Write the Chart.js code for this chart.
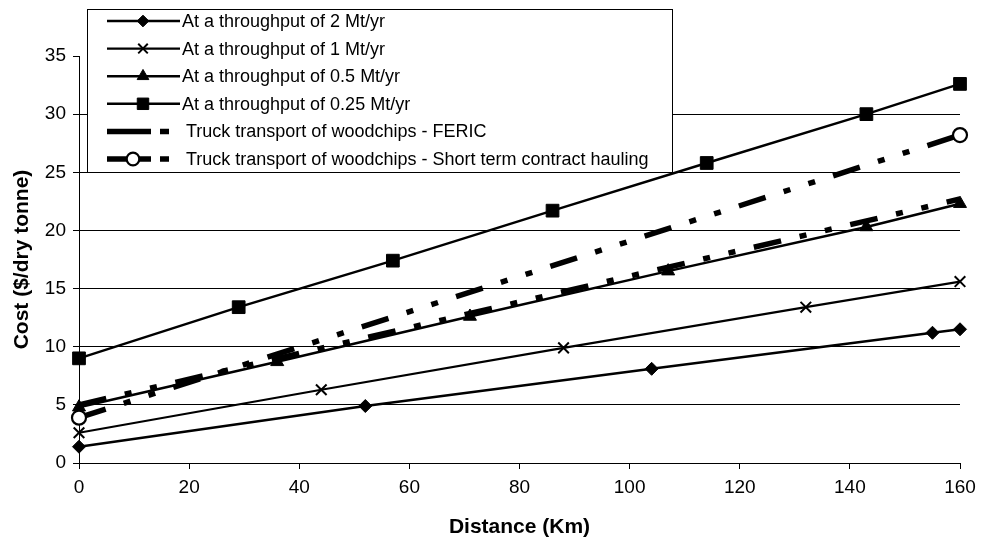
<!DOCTYPE html>
<html>
<head>
<meta charset="utf-8">
<script src="https://cdn.jsdelivr.net/npm/chart.js@4.4.1/dist/chart.umd.min.js"></script>
<style>
  html, body { margin: 0; padding: 0; background: #fff; }
  #wrap { width: 990px; height: 544px; position: relative; }
</style>
</head>
<body>
<div id="wrap"><canvas id="c" width="990" height="544"></canvas></div>
<script>
// ---- data ----
const seriesLabels = [
  'At a throughput of 2 Mt/yr',
  'At a throughput of 1 Mt/yr',
  'At a throughput of 0.5 Mt/yr',
  'At a throughput of 0.25 Mt/yr',
  'Truck transport of woodchips - FERIC',
  'Truck transport of woodchips - Short term contract hauling'
];
const dist2Mt = [0, 52, 104, 155, 160];
const cost2Mt = [1.4, 4.9, 8.1, 11.2, 11.5];
const dist1Mt = [0, 44, 88, 132, 160];
const cost1Mt = [2.6, 6.3, 9.9, 13.4, 15.6];
const dist05Mt = [0, 36, 71, 107, 143, 160];
const cost05Mt = [4.8, 8.7, 12.6, 16.5, 20.3, 22.3];
const dist025Mt = [0, 29, 57, 86, 114, 143, 160];
const cost025Mt = [9.0, 13.4, 17.4, 21.7, 25.8, 30.0, 32.6];
const distFeric = [0, 160];
const costFeric = [5.0, 22.7];
const distContract = [0, 160];
const costContract = [3.9, 28.2];
const xTicksMin = 0, xTicksMax = 160, xStep = 20;
const yTicksMin = 0, yTicksMax = 35, yStep = 5;

const FONT = "'Liberation Sans', Arial, Helvetica, sans-serif";
Chart.defaults.font.family = FONT;
Chart.defaults.color = '#000';

function pts(xs, ys) { return xs.map((x, i) => ({ x: x, y: ys[i] })); }
const dashPattern = [28, 19, 7, 19, 7, 19];

const datasets = [
  { label: seriesLabels[0], data: pts(dist2Mt, cost2Mt), borderWidth: 2.5, pointStyle: 'rectRot', pointRadius: 6.5 },
  { label: seriesLabels[1], data: pts(dist1Mt, cost1Mt), borderWidth: 2.2, pointStyle: 'crossRot', pointRadius: 7.5, pointBorderWidth: 2 },
  { label: seriesLabels[2], data: pts(dist05Mt, cost05Mt), borderWidth: 2.5, pointStyle: 'triangle', pointRadius: 7.5 },
  { label: seriesLabels[3], data: pts(dist025Mt, cost025Mt), borderWidth: 2.5, pointStyle: 'rect', pointRadius: 9 },
  { label: seriesLabels[4], data: pts(distFeric, costFeric), borderWidth: 5.5, borderDash: dashPattern, pointRadius: 0, pointStyle: false },
  { label: seriesLabels[5], data: pts(distContract, costContract), borderWidth: 5.5, borderDash: dashPattern, pointStyle: 'circle', pointRadius: 7, pointBackgroundColor: '#fff', pointBorderWidth: 2.2 }
].map((d, i) => Object.assign({
  borderColor: '#000',
  backgroundColor: '#000',
  pointBackgroundColor: '#000',
  pointBorderColor: '#000',
  pointBorderWidth: 1,
  pointHoverRadius: 0,
  fill: false,
  tension: 0,
  clip: false,
  order: 6 - i
}, d));

const boxLegend = {
  id: 'boxLegend',
  afterDraw(chart) {
    const ctx = chart.ctx;
    const a = chart.chartArea;
    const bx = a.left + 8, by = 9, bw = 585, bh = 163;
    ctx.save();
    ctx.fillStyle = '#fff';
    ctx.fillRect(bx, by, bw, bh);
    ctx.strokeStyle = '#000';
    ctx.lineWidth = 1;
    ctx.strokeRect(bx + 0.5, by + 0.5, bw, bh);
    const rowH = 27.6;
    chart.data.datasets.forEach((ds, i) => {
      const y = by + 12 + i * rowH;
      const x0 = bx + 20, x1 = bx + 93, xm = bx + 56;
      ctx.save();
      ctx.strokeStyle = '#000';
      ctx.lineWidth = ds.borderWidth;
      ctx.setLineDash(ds.borderDash ? [44, 9, 9, 30] : []);
      ctx.beginPath();
      ctx.moveTo(x0, y);
      ctx.lineTo(ds.borderDash ? x0 + 62 : x1, y);
      ctx.stroke();
      ctx.restore();
      if (ds.pointStyle && ds.pointRadius > 0) {
        ctx.save();
        ctx.fillStyle = ds.pointBackgroundColor;
        ctx.strokeStyle = ds.pointBorderColor;
        ctx.lineWidth = ds.pointBorderWidth;
        const mx = ds.borderDash ? bx + 46 : xm;
        Chart.helpers.drawPoint(ctx, { pointStyle: ds.pointStyle, radius: ds.pointRadius * 0.9, borderWidth: ds.pointBorderWidth, rotation: 0 }, mx, y);
        ctx.restore();
      }
      ctx.fillStyle = '#000';
      ctx.font = '18px ' + FONT;
      ctx.textBaseline = 'middle';
      ctx.textAlign = 'left';
      ctx.fillText(ds.label, ds.borderDash ? bx + 99 : bx + 95, y + 1);
    });
    ctx.restore();
  }
};

new Chart(document.getElementById('c'), {
  type: 'line',
  data: { datasets: datasets },
  plugins: [boxLegend],
  options: {
    responsive: false,
    devicePixelRatio: 1,
    animation: false,
    events: [],
    layout: { padding: { top: 56, right: 30, left: 0, bottom: 0 } },
    plugins: { legend: { display: false }, tooltip: { enabled: false }, title: { display: false } },
    scales: {
      x: {
        type: 'linear', min: xTicksMin, max: xTicksMax,
        ticks: { stepSize: xStep, color: '#000', font: { size: 19 }, padding: 7, maxRotation: 0 },
        grid: { drawOnChartArea: false, drawTicks: true, tickLength: 6, tickColor: '#000', tickWidth: 1 },
        border: { color: '#000', width: 1 },
        title: { display: true, text: 'Distance (Km)', color: '#000', font: { size: 21, weight: 'bold' }, padding: { top: 0, bottom: 4 } },
        afterFit(s) { s.height = 81; }
      },
      y: {
        min: yTicksMin, max: yTicksMax,
        ticks: { stepSize: yStep, color: '#000', font: { size: 19 }, padding: 7 },
        grid: {
          color: (c) => (c.tick && c.tick.value === yTicksMax) ? 'rgba(0,0,0,0)' : '#000',
          lineWidth: 1, drawTicks: true, tickLength: 6, tickColor: '#000'
        },
        border: { color: '#000', width: 1 },
        title: { display: true, text: 'Cost ($/dry tonne)', color: '#000', font: { size: 21, weight: 'bold' }, padding: { top: 10, bottom: 0 } },
        afterFit(s) { s.width = 79; }
      }
    }
  }
});
</script>
</body>
</html>
